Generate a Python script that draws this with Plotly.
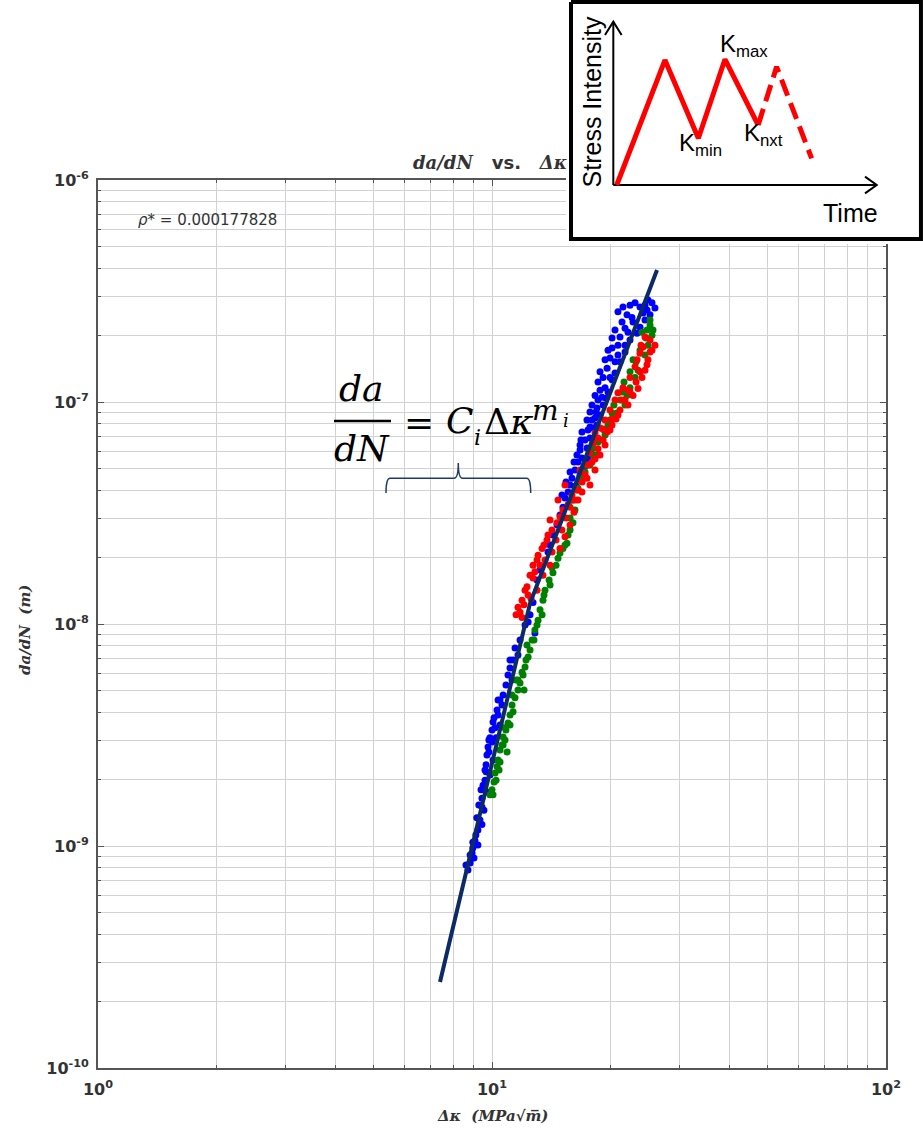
import plotly.graph_objects as go

W, H = 923, 1128

# Crack growth rate da/dN (m/cycle) against stress-intensity range dK (MPa*sqrt(m))
blue_dk = [21.50, 22.01, 21.38, 21.13, 22.14, 23.75, 24.17, 24.74, 24.45, 23.75, 23.34, 25.18, 25.47, 24.88,
           20.17, 19.93, 19.59, 20.52, 19.14, 19.36, 19.02, 18.47, 18.26, 18.05, 17.73, 17.42, 16.92,
           20.88, 18.80, 18.58, 17.94, 17.52, 17.22, 16.73, 16.53, 16.24, 15.96, 15.78, 15.60, 15.32, 15.14,
           14.88, 14.62, 14.28, 14.04, 13.87,
           22.40, 21.76, 21.13, 20.17, 19.48, 18.37, 17.73, 16.82,
           22.40, 23.07, 20.88, 22.66, 25.92, 24.45, 21.76, 22.80, 20.52, 20.17, 21.76, 20.88, 19.70, 20.52,
           19.36, 18.80, 19.93, 18.58, 19.70, 18.26, 19.14, 17.94, 18.80, 17.73, 18.47, 17.42, 18.26, 16.92,
           17.94, 16.73, 17.52, 16.43, 17.12, 16.15, 16.73, 15.78, 16.34, 15.41, 15.96, 15.05,
           13.24, 13.01, 12.71, 12.85, 12.49, 12.35, 11.44, 11.31, 11.11, 10.98, 10.67, 10.48, 10.30, 10.12,
           10.00, 9.88, 9.77, 9.71, 9.66, 9.60, 9.54, 9.43, 9.43, 9.32, 9.21, 9.05, 8.94, 8.90, 8.80, 8.69,
           10.36, 10.06, 9.82, 9.66, 9.49,
           12.13, 11.78, 11.64, 11.11, 10.85, 11.24, 10.60, 10.36, 10.18, 10.48, 10.00, 10.24, 9.82, 10.06,
           9.60, 9.88, 9.38, 9.71, 9.26, 9.54, 9.15, 9.43, 9.10, 8.94, 9.21, 8.80, 9.00, 8.59]
blue_dadn = [2.68e-7, 2.47e-7, 2.29e-7, 1.96e-7, 2.06e-7, 2.68e-7, 2.52e-7, 2.60e-7, 2.34e-7, 2.17e-7, 2.04e-7,
             2.47e-7, 2.80e-7, 2.88e-7,
             1.75e-7, 1.58e-7, 1.42e-7, 1.35e-7, 1.29e-7, 1.16e-7, 1.05e-7, 9.40e-8, 8.48e-8, 7.64e-8, 6.88e-8,
             6.21e-8, 5.60e-8,
             1.80e-7, 1.13e-7, 1.02e-7, 8.30e-8, 7.48e-8, 6.74e-8, 6.08e-8, 5.37e-8, 4.94e-8, 4.54e-8, 4.23e-8,
             3.93e-8, 3.69e-8, 3.36e-8, 3.10e-8, 2.80e-8, 2.52e-8, 2.27e-8, 2.11e-8,
             1.90e-7, 1.68e-7, 1.52e-7, 1.26e-7, 1.04e-7, 9.02e-8, 7.72e-8, 6.74e-8,
             2.73e-7, 2.80e-7, 2.55e-7, 2.40e-7, 2.65e-7, 2.73e-7, 2.15e-7, 2.29e-7, 2.11e-7, 1.94e-7, 1.80e-7,
             1.63e-7, 1.71e-7, 1.52e-7, 1.55e-7, 1.37e-7, 1.29e-7, 1.23e-7, 1.11e-7, 1.07e-7, 9.70e-8, 9.70e-8,
             8.74e-8, 9.02e-8, 7.88e-8, 8.30e-8, 6.88e-8, 7.33e-8, 6.15e-8, 6.40e-8, 5.54e-8, 5.77e-8, 5.03e-8,
             5.37e-8, 4.69e-8, 4.84e-8, 4.19e-8, 4.36e-8, 3.62e-8, 3.81e-8,
             1.75e-8, 1.58e-8, 1.25e-8, 9.12e-9, 1.10e-8, 1.02e-8, 7.80e-9, 6.88e-9, 6.34e-9, 5.89e-9, 4.79e-9,
             4.55e-9, 4.10e-9, 3.78e-9, 3.33e-9, 3.07e-9, 2.79e-9, 2.57e-9, 2.32e-9, 1.98e-9, 1.79e-9, 1.64e-9,
             1.50e-9, 1.31e-9, 1.18e-9, 1.06e-9, 9.80e-10, 9.30e-10, 8.38e-10, 7.79e-10,
             4.55e-9, 3.62e-9, 3.00e-9, 2.16e-9, 1.88e-9,
             9.89e-9, 8.47e-9, 7.25e-9, 6.88e-9, 5.31e-9, 5.59e-9, 4.32e-9, 3.89e-9, 3.41e-9, 3.51e-9, 2.94e-9,
             3.07e-9, 2.65e-9, 2.44e-9, 2.20e-9, 2.09e-9, 1.79e-9, 1.75e-9, 1.53e-9, 1.45e-9, 1.34e-9, 1.25e-9,
             1.12e-9, 1.04e-9, 1.01e-9, 9.10e-10, 8.83e-10, 8.21e-10]

green_dk = [24.74, 24.03, 25.18, 25.47, 24.88, 22.80, 22.40, 21.13, 20.76, 20.17, 18.80, 18.05, 23.48, 23.07,
            22.01, 24.45, 21.76, 19.70, 19.36, 18.47, 17.73, 17.22, 16.73, 16.43, 16.05,
            25.18, 25.62, 24.60, 23.75, 23.21, 22.40, 21.63, 21.38, 20.40, 19.93, 19.25, 18.58, 18.05, 17.42,
            16.92, 16.53, 16.24, 15.78,
            16.05, 15.50, 14.88, 14.28, 13.63, 13.24, 12.85, 12.49, 12.13, 11.78, 11.44, 15.78, 15.14, 14.54,
            13.96, 13.47, 13.09, 12.64, 12.35, 11.99, 11.64,
            15.60, 15.32, 14.71, 14.20, 14.04, 13.55, 13.40, 13.01, 12.78, 12.27, 12.20, 11.92, 11.64, 12.06,
            11.51, 11.24, 10.98, 10.67, 10.48, 10.36, 10.18, 10.00, 9.88, 11.31, 10.85, 10.60, 10.30, 10.12,
            10.79, 11.11,
            11.24, 11.11, 10.79, 10.67, 10.48, 10.24, 10.06, 10.42, 10.92]
green_dadn = [2.11e-7, 2.06e-7, 2.22e-7, 2.00e-7, 1.80e-7, 1.55e-7, 1.16e-7, 1.02e-7, 8.93e-8, 8.93e-8, 6.74e-8,
              6.21e-8, 1.39e-7, 1.29e-7, 1.07e-7, 1.63e-7, 9.70e-8, 7.88e-8, 7.10e-8, 5.77e-8, 5.20e-8, 4.84e-8,
              4.45e-8, 4.01e-8, 3.62e-8,
              2.34e-7, 2.11e-7, 1.94e-7, 1.71e-7, 1.52e-7, 1.37e-7, 1.23e-7, 1.11e-7, 9.70e-8, 8.30e-8, 7.48e-8,
              6.61e-8, 5.77e-8, 5.20e-8, 4.54e-8, 4.09e-8, 3.26e-8, 3.00e-8,
              2.86e-8, 2.31e-8, 2.09e-8, 1.70e-8, 1.42e-8, 1.16e-8, 9.40e-9, 7.64e-9, 6.41e-9, 5.42e-9, 4.65e-9,
              2.65e-8, 2.19e-8, 1.84e-8, 1.58e-8, 1.28e-8, 1.04e-8, 8.47e-9, 7.10e-9, 5.89e-9, 5.04e-9,
              2.52e-8, 2.27e-8, 1.98e-8, 1.79e-8, 1.50e-8, 1.35e-8, 1.10e-8, 9.89e-9, 8.47e-9, 8.04e-9, 6.88e-9,
              6.06e-9, 5.59e-9, 5.04e-9,
              5.59e-9, 4.32e-9, 3.58e-9, 3.10e-9, 2.71e-9, 2.44e-9, 2.13e-9, 1.79e-9, 1.70e-9, 4.02e-9, 3.33e-9,
              2.85e-9, 2.28e-9, 1.94e-9, 3.00e-9, 3.89e-9,
              4.79e-9, 3.51e-9, 3.41e-9, 2.85e-9, 2.39e-9, 1.98e-9, 1.70e-9, 2.20e-9, 2.65e-9]

red_dk = [24.45, 24.17, 23.75, 23.34, 23.07, 22.40, 21.50, 20.88, 20.52, 19.93, 19.36, 18.80, 18.26, 18.05,
          17.73, 23.89, 25.18, 25.47, 24.88, 24.45, 24.03, 23.48, 22.80, 22.14, 21.76, 21.13, 20.64, 20.17,
          19.59, 19.14, 18.58, 18.26,
          25.92, 25.18, 24.74, 23.75, 23.21, 22.40, 22.14, 21.38, 20.88, 20.17, 19.93, 19.14, 19.36, 18.58,
          18.80, 17.94, 18.26, 17.42, 17.73, 16.92,
          17.52, 17.22, 16.93, 16.53, 16.24, 15.78, 15.14, 14.62, 13.79, 13.01, 12.27, 11.78, 16.73, 15.96,
          15.60, 14.88, 14.20, 13.87, 13.40, 13.09, 12.71, 12.49, 12.13, 11.92, 11.64, 15.32, 14.71, 14.04,
          13.55, 12.85,
          16.53, 16.15, 15.41, 15.78, 15.05, 15.32, 14.54, 14.88, 14.20, 13.63, 14.04, 13.24, 13.47, 12.71,
          13.01, 12.35, 12.56, 12.06, 11.51, 11.92]
red_dadn = [1.96e-7, 1.77e-7, 1.66e-7, 1.55e-7, 1.44e-7, 1.29e-7, 1.16e-7, 1.10e-7, 1.02e-7, 9.20e-8, 8.30e-8,
            7.64e-8, 7.26e-8, 6.54e-8, 5.90e-8, 1.80e-7, 1.90e-7, 1.71e-7, 1.55e-7, 1.39e-7, 1.29e-7, 1.15e-7,
            1.07e-7, 1.13e-7, 1.02e-7, 9.20e-8, 8.39e-8, 7.88e-8, 7.33e-8, 6.74e-8, 6.15e-8, 5.54e-8,
            1.80e-7, 1.68e-7, 1.47e-7, 1.37e-7, 1.23e-7, 1.11e-7, 9.70e-8, 1.02e-7, 8.74e-8, 8.39e-8, 7.48e-8,
            7.56e-8, 6.40e-8, 6.88e-8, 5.77e-8, 5.37e-8, 4.94e-8, 4.54e-8, 4.23e-8, 3.93e-8,
            5.20e-8, 4.71e-8, 4.36e-8, 4.01e-8, 3.62e-8, 3.36e-8, 3.26e-8, 2.86e-8, 2.39e-8, 1.94e-8, 1.47e-8,
            1.13e-8, 4.94e-8, 3.81e-8, 3.45e-8, 3.04e-8, 2.65e-8, 2.52e-8, 2.19e-8, 2.04e-8, 1.84e-8, 1.66e-8,
            1.42e-8, 1.28e-8, 1.19e-8, 4.23e-8, 3.62e-8, 2.94e-8, 2.27e-8, 1.72e-8,
            3.62e-8, 3.19e-8, 3.00e-8, 2.79e-8, 2.65e-8, 2.47e-8, 2.39e-8, 2.19e-8, 2.11e-8, 1.94e-8, 1.84e-8,
            1.84e-8, 1.66e-8, 1.61e-8, 1.42e-8, 1.35e-8, 1.30e-8, 1.22e-8, 1.10e-8, 1.07e-8]

# Piecewise Paris-law fit
fit_dk = [7.38, 12.49, 26.23]
fit_dadn = [2.44e-10, 1.24e-8, 3.93e-7]

# Axis ticks
x_major = [1, 10, 100]
x_major_text = ["<b>10<sup>0</sup></b>", "<b>10<sup>1</sup></b>", "<b>10<sup>2</sup></b>"]
x_minor = [k * 10 ** e for e in (0, 1) for k in range(2, 10)]
y_major = [1e-10, 1e-9, 1e-8, 1e-7, 1e-6]
y_major_text = ["<b>10<sup>-10</sup></b>", "<b>10<sup>-9</sup></b>", "<b>10<sup>-8</sup></b>",
                "<b>10<sup>-7</sup></b>", "<b>10<sup>-6</sup></b>"]
y_minor = [k * 10.0 ** e for e in (-10, -9, -8, -7) for k in range(2, 10)]

# Loading-history schematic (inset): time vs stress intensity, arbitrary units
wave_t = [0.13, 1.96, 3.23, 4.24, 5.50]
wave_k = [0.0, 7.65, 2.86, 7.70, 3.67]
next_t = [5.50, 6.20, 7.53]
next_k = [3.67, 7.24, 1.63]
arrow_t = [0, 0, None, -0.316, 0, 0.316, None, 0, 10, None, 9.556, 10, 9.556]
arrow_k = [0, 10, None, 9.18, 10, 9.18, None, 0, 0, None, 0.51, 0, -0.51]
frame_t = [-1.606, 11.68, 11.68, -1.606, -1.606]
frame_k = [11.206, 11.206, -3.307, -3.307, 11.206]

GRID = "#d2d2d2"
AXC = "#555555"
TXT = "#333333"

fig = go.Figure()
for xs, ys, col in ((blue_dk, blue_dadn, "#0000ff"), (green_dk, green_dadn, "#008000"),
                    (red_dk, red_dadn, "#ff0000")):
    fig.add_trace(go.Scatter(x=xs, y=ys, mode="markers",
                             marker=dict(color=col, size=7, line=dict(width=0)),
                             xaxis="x", yaxis="y"))
fig.add_trace(go.Scatter(x=fit_dk, y=fit_dadn, mode="lines",
                         line=dict(color="#0b2a66", width=4), xaxis="x", yaxis="y"))

# inset
fig.add_trace(go.Scatter(x=frame_t, y=frame_k, mode="lines", fill="toself", fillcolor="white",
                         line=dict(color="black", width=4), xaxis="x2", yaxis="y2"))
fig.add_trace(go.Scatter(x=arrow_t, y=arrow_k, mode="lines", line=dict(color="black", width=2),
                         xaxis="x2", yaxis="y2"))
fig.add_trace(go.Scatter(x=wave_t, y=wave_k, mode="lines", line=dict(color="#ff0000", width=5),
                         xaxis="x2", yaxis="y2"))
fig.add_trace(go.Scatter(x=next_t, y=next_k, mode="lines",
                         line=dict(color="#ff0000", width=5, dash="17px,8px"),
                         xaxis="x2", yaxis="y2"))

tickfont = dict(family="DejaVu Sans", size=16, color=TXT)

fig.update_layout(
    width=W, height=H, margin=dict(l=0, r=0, t=0, b=0, autoexpand=False),
    paper_bgcolor="white", plot_bgcolor="white", showlegend=False,
    xaxis=dict(type="log", range=[0, 2], domain=[98 / W, 886 / W], anchor="y", automargin=False,
               tickmode="array", tickvals=x_major, ticktext=x_major_text, tickfont=tickfont,
               ticks="inside", ticklen=6, tickcolor=AXC, ticklabelstandoff=6,
               showgrid=True, gridcolor=GRID, gridwidth=1,
               showline=True, linecolor=AXC, linewidth=2, mirror="ticks", zeroline=False,
               minor=dict(tickvals=x_minor, ticks="inside", ticklen=3, tickcolor=AXC,
                          showgrid=True, gridcolor=GRID, gridwidth=1)),
    yaxis=dict(type="log", range=[-10, -6], domain=[1 - 1068 / H, 1 - 180 / H], anchor="x",
               automargin=False,
               tickmode="array", tickvals=y_major, ticktext=y_major_text, tickfont=tickfont,
               ticks="inside", ticklen=6, tickcolor=AXC, ticklabelstandoff=4,
               showgrid=True, gridcolor=GRID, gridwidth=1,
               showline=True, linecolor=AXC, linewidth=2, mirror="ticks", zeroline=False,
               minor=dict(tickvals=y_minor, ticks="inside", ticklen=3, tickcolor=AXC,
                          showgrid=True, gridcolor=GRID, gridwidth=1)),
    xaxis2=dict(domain=[566 / W, 1], range=[-1.796, 11.758], anchor="y2", visible=False),
    yaxis2=dict(domain=[1 - 244 / H, 1], range=[-3.613, 11.329], anchor="x2", visible=False),
)

def px(x):
    return x / W

def py(y):
    return 1 - y / H

serif = "DejaVu Serif"
ann = []
# title and labels
ann.append(dict(x=px(411), y=py(163), xanchor="left", yanchor="middle",
                text=("<i>da/dN</i>\u00a0\u00a0\u00a0<span style='font-family:DejaVu Sans'>vs.</span>"
                      "\u00a0\u00a0\u00a0<i>Δκ</i>"),
                font=dict(family=serif, size=18, color=TXT, weight="bold")))
ann.append(dict(x=px(136), y=py(220), xanchor="left", yanchor="middle",
                text="<i>ρ</i>* = 0.000177828",
                font=dict(family="DejaVu Sans", size=15, color=TXT)))
ann.append(dict(x=px(25), y=py(630), xanchor="center", yanchor="middle", textangle=-90,
                text="<i>da/dN</i>\u00a0\u00a0<i>(m)</i>",
                font=dict(family=serif, size=15, color=TXT, weight="bold")))
ann.append(dict(x=px(493), y=py(1116), xanchor="center", yanchor="middle",
                text="<i>Δκ</i>\u00a0\u00a0<i>(MPa√m\u0305)</i>",
                font=dict(family=serif, size=15, color=TXT, weight="bold")))

# Paris-law expression
big = dict(family=serif, size=36, color="black")
ann.append(dict(x=px(361), y=py(388), xanchor="center", yanchor="middle", text="<i>da</i>", font=big))
ann.append(dict(x=px(362), y=py(448), xanchor="center", yanchor="middle", text="<i>dN</i>", font=big))
ann.append(dict(x=px(419), y=py(422.5), xanchor="center", yanchor="middle", text="=", font=big))
ann.append(dict(x=px(444), y=py(420), xanchor="left", yanchor="middle", text="<i>C</i>", font=big))
ann.append(dict(x=px(472), y=py(437), xanchor="left", yanchor="middle", text="<i>i</i>",
                font=dict(family=serif, size=22, color="black")))
ann.append(dict(x=px(482), y=py(421), xanchor="left", yanchor="middle", text="Δ<i>κ</i>", font=big))
ann.append(dict(x=px(530), y=py(411), xanchor="left", yanchor="middle", text="<i>m</i>",
                font=dict(family=serif, size=28, color="black")))
ann.append(dict(x=px(561), y=py(420), xanchor="left", yanchor="middle", text="<i>i</i>",
                font=dict(family=serif, size=18, color="black")))

# inset labels
sans = "Liberation Sans"
ann.append(dict(x=-0.82, y=5.10, xref="x2", yref="y2", xanchor="center", yanchor="middle",
                textangle=-90, text="Stress Intensity", font=dict(family=sans, size=25, color="black")))
ann.append(dict(x=8.99, y=-1.715, xref="x2", yref="y2", xanchor="center", yanchor="middle",
                text="Time", font=dict(family=sans, size=25, color="black")))
ann.append(dict(x=3.975, y=8.57, xref="x2", yref="y2", xanchor="left", yanchor="middle",
                text="K<sub>max</sub>", font=dict(family=sans, size=24, color="black")))
ann.append(dict(x=2.42, y=2.45, xref="x2", yref="y2", xanchor="left", yanchor="middle",
                text="K<sub>min</sub>", font=dict(family=sans, size=24, color="black")))
ann.append(dict(x=4.88, y=3.12, xref="x2", yref="y2", xanchor="left", yanchor="middle",
                text="K<sub>nxt</sub>", font=dict(family=sans, size=24, color="black")))

for a in ann:
    a.setdefault("xref", "paper")
    a.setdefault("yref", "paper")
    a["showarrow"] = False
fig.update_layout(annotations=ann)

shapes = [
    # fraction bar
    dict(type="line", xref="paper", yref="paper", x0=px(334), x1=px(391), y0=py(421), y1=py(421),
         line=dict(color="black", width=2.5)),
    # brace under the expression
    dict(type="path", xref="paper", yref="paper",
         path=(f"M {px(386)},{py(493)} Q {px(386)},{py(478.3)} {px(390)},{py(478.3)} "
               f"L {px(454)},{py(478.3)} Q {px(458.3)},{py(478.3)} {px(458.3)},{py(463)} "
               f"Q {px(458.3)},{py(478.3)} {px(462.6)},{py(478.3)} "
               f"L {px(526.7)},{py(478.3)} Q {px(530.7)},{py(478.3)} {px(530.7)},{py(493)}"),
         line=dict(color="#1d3b73", width=1.5)),
]
fig.update_layout(shapes=shapes)

fig.write_html("out.html", config={"displayModeBar": False})
